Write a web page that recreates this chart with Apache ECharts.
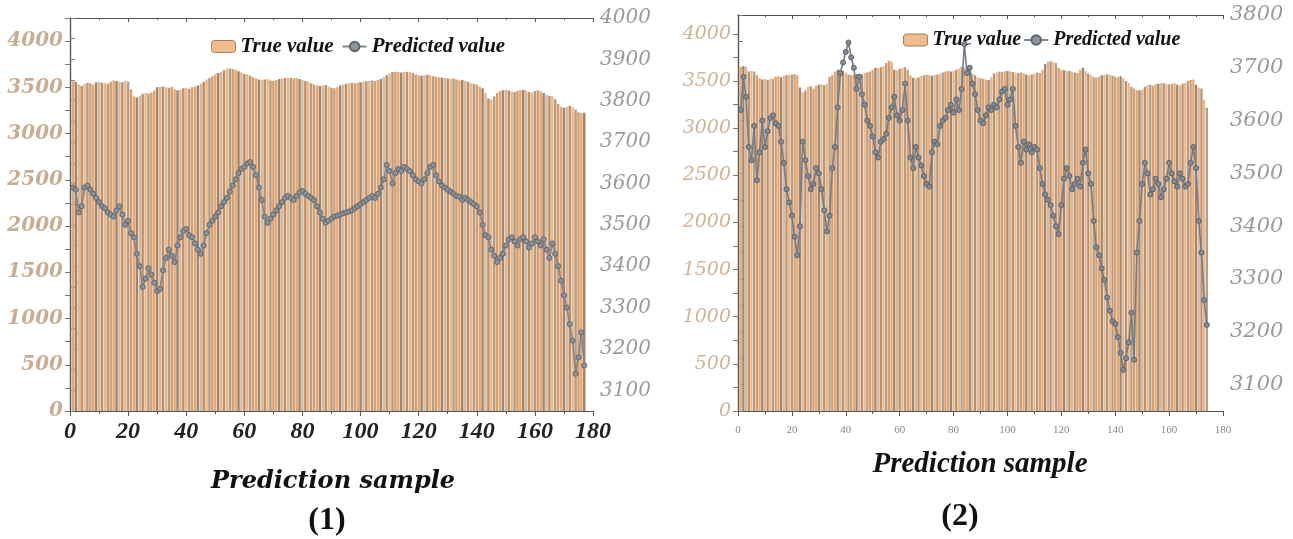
<!DOCTYPE html>
<html>
<head>
<meta charset="utf-8">
<script src="https://cdn.jsdelivr.net/npm/echarts@6/dist/echarts.min.js"></script>
<style>html,body{margin:0;padding:0;background:#fff;}#c{width:1293px;height:539px;}</style>
</head>
<body>
<div id="c"></div>
<script>
// ---------- Panel (1) ----------
const trueValue1 = [
3575,3560,3530,3515,3535,3550,3545,3530,3555,3560,
3550,3545,3540,3560,3575,3570,3560,3555,3570,3560,
3480,3400,3390,3410,3430,3440,3430,3445,3470,3500,
3505,3510,3500,3495,3505,3480,3470,3475,3490,3495,
3485,3500,3510,3520,3540,3560,3585,3600,3620,3640,
3655,3670,3685,3700,3705,3700,3690,3675,3660,3645,
3640,3625,3610,3595,3585,3580,3585,3590,3575,3570,
3580,3590,3595,3600,3605,3600,3595,3600,3590,3580,
3570,3560,3545,3530,3520,3515,3520,3525,3510,3495,
3490,3500,3520,3530,3540,3545,3550,3545,3550,3555,
3560,3565,3570,3575,3570,3580,3590,3610,3630,3650,
3665,3670,3665,3660,3665,3670,3665,3655,3640,3630,
3625,3630,3635,3630,3620,3615,3610,3605,3600,3595,
3590,3595,3585,3575,3580,3570,3560,3545,3540,3530,
3510,3490,3440,3380,3370,3400,3440,3460,3470,3475,
3465,3455,3450,3460,3470,3475,3465,3450,3445,3460,
3470,3455,3440,3420,3410,3400,3370,3320,3290,3280,
3290,3300,3285,3260,3230,3220,3225];
const predValue1 = [
3590,3585,3530,3545,3590,3595,3585,3575,3565,3555,
3545,3540,3530,3525,3520,3535,3545,3525,3500,3510,
3480,3470,3430,3400,3350,3370,3395,3380,3360,3340,
3345,3390,3420,3440,3425,3410,3450,3470,3485,3490,
3475,3470,3455,3440,3430,3450,3480,3500,3510,3520,
3530,3545,3555,3565,3580,3595,3610,3625,3635,3640,
3648,3652,3640,3620,3590,3560,3520,3505,3515,3525,
3535,3545,3555,3565,3570,3565,3560,3570,3578,3582,
3575,3570,3565,3560,3545,3530,3515,3505,3510,3515,
3520,3522,3525,3528,3530,3532,3535,3540,3545,3550,
3555,3560,3565,3570,3565,3575,3590,3610,3645,3630,
3600,3625,3635,3630,3640,3635,3630,3620,3610,3605,
3600,3610,3625,3640,3645,3620,3605,3595,3590,3585,
3580,3575,3570,3568,3560,3565,3560,3555,3550,3545,
3530,3500,3475,3470,3440,3425,3410,3420,3430,3450,
3465,3470,3460,3450,3465,3470,3460,3445,3455,3470,
3460,3450,3465,3440,3420,3455,3430,3400,3365,3330,
3300,3260,3220,3140,3180,3240,3160];

// ---------- Panel (2) ----------
const trueValue2 = [
3650,3660,3655,3600,3605,3600,3560,3530,3515,3520,
3510,3525,3520,3545,3550,3540,3555,3560,3570,3565,
3575,3560,3430,3380,3400,3440,3445,3420,3450,3460,
3465,3455,3470,3545,3560,3600,3620,3625,3610,3590,
3570,3560,3565,3575,3580,3570,3585,3590,3600,3620,
3640,3635,3645,3660,3690,3715,3705,3620,3615,3630,
3640,3645,3620,3560,3535,3530,3540,3555,3560,3565,
3560,3555,3565,3570,3580,3590,3600,3605,3600,3610,
3620,3630,3650,3640,3620,3600,3580,3560,3540,3530,
3520,3515,3510,3540,3580,3590,3600,3595,3600,3605,
3600,3595,3590,3585,3590,3580,3570,3560,3570,3580,
3590,3585,3620,3680,3705,3710,3700,3690,3640,3620,
3615,3605,3610,3600,3590,3585,3620,3640,3610,3580,
3560,3540,3535,3545,3560,3565,3570,3565,3555,3545,
3540,3550,3530,3500,3480,3440,3420,3405,3400,3410,
3440,3455,3460,3450,3465,3470,3480,3475,3470,3465,
3470,3475,3460,3455,3470,3480,3500,3510,3515,3460,
3430,3420,3300,3215];
const predValue2 = [
3620,3683,3645,3550,3525,3590,3487,3540,3600,3550,
3580,3605,3610,3595,3590,3560,3520,3470,3445,3420,
3380,3345,3400,3560,3525,3495,3470,3480,3510,3500,
3470,3430,3390,3420,3510,3550,3625,3690,3710,3730,
3748,3720,3700,3660,3683,3650,3630,3600,3590,3570,
3540,3530,3560,3565,3575,3605,3625,3645,3610,3600,
3620,3670,3600,3530,3510,3550,3530,3515,3495,3480,
3475,3540,3560,3555,3590,3600,3605,3620,3630,3615,
3640,3620,3660,3745,3690,3700,3670,3650,3620,3600,
3595,3610,3625,3620,3630,3625,3640,3655,3660,3630,
3640,3660,3590,3550,3520,3560,3545,3555,3540,3550,
3545,3510,3480,3460,3450,3440,3420,3400,3385,3440,
3490,3510,3495,3470,3480,3490,3475,3520,3545,3500,
3480,3410,3360,3345,3320,3298,3265,3240,3220,3215,
3190,3160,3128,3150,3180,3236,3147,3350,3410,3480,
3520,3500,3460,3470,3490,3480,3455,3470,3490,3520,
3500,3485,3475,3500,3490,3475,3480,3520,3550,3510,
3410,3350,3260,3213];

// tick labels
const xTicks = [0,20,40,60,80,100,120,140,160,180];
const leftTicks = [0,500,1000,1500,2000,2500,3000,3500,4000];
const right1Ticks = [3100,3200,3300,3400,3500,3600,3700,3800,3900,4000];
const right2Ticks = [3100,3200,3300,3400,3500,3600,3700,3800];

const SERIF = '"Liberation Serif","DejaVu Serif",serif';
const WIDE = '"DejaVu Serif","Liberation Serif",serif';
const barPalette = ['#e3a878','#a88462','#d2bba6','#c18f65','#ebb887','#b39c88','#d89e6c'];
const barColor = p => barPalette[p.dataIndex % barPalette.length];
const pairs = arr => arr.map((v, i) => [i + 1, v]);
const steps = (a, b, s) => { const r = []; for (let v = a; v <= b + 1e-9; v += s) r.push(v); return r; };
const plain = v => String(v);

const axisLineStyle = { show: true, lineStyle: { color: '#555', width: 1.2 } };

function xAxes(grid, labelStyle) {
  return [
    { type: 'value', gridIndex: grid, min: 0, max: 180, interval: 20, position: 'bottom',
      axisLine: axisLineStyle, splitLine: { show: false },
      axisTick: { show: true, length: 5, lineStyle: { color: '#555' } },
      minorTick: { show: true, splitNumber: 2, length: 3, lineStyle: { color: '#555' } },
      axisLabel: Object.assign({ customValues: xTicks, formatter: plain }, labelStyle) },
    { type: 'value', gridIndex: grid, min: 0, max: 180, interval: 20, position: 'top',
      axisLine: axisLineStyle, splitLine: { show: false },
      axisTick: { show: true, inside: true, length: 4, lineStyle: { color: '#555' } },
      minorTick: { show: true, splitNumber: 2, length: 2, lineStyle: { color: '#555' } },
      axisLabel: { show: false } }
  ];
}

const option = {
  backgroundColor: '#fff',
  animation: false,
  grid: [
    { left: 70, right: 700, top: 18, bottom: 128, containLabel: false },
    { left: 738, right: 70, top: 15, bottom: 128, containLabel: false }
  ],
  legend: [
    { left: 206, top: 31, itemGap: 8, itemWidth: 24, itemHeight: 12,
      textStyle: { fontFamily: SERIF, fontStyle: 'italic', fontWeight: 'bold', fontSize: 21, color: '#111' },
      data: [{ name: 'True value', itemStyle: { color: '#f0be8e', borderColor: '#a87c5a', borderWidth: 1 } },
             { name: 'Predicted value' }] },
    { left: 898, top: 25, itemGap: 2, itemWidth: 24, itemHeight: 12,
      textStyle: { fontFamily: SERIF, fontStyle: 'italic', fontWeight: 'bold', fontSize: 20, color: '#111' },
      data: [{ name: 'True value', itemStyle: { color: '#f0be8e', borderColor: '#a87c5a', borderWidth: 1 } },
             { name: 'Predicted value' }] }
  ],
  xAxis: [].concat(
    xAxes(0, { fontFamily: SERIF, fontStyle: 'italic', fontWeight: 'bold', fontSize: 24, color: '#222', margin: 9 }),
    xAxes(1, { fontFamily: SERIF, fontSize: 11, color: '#888', margin: 14 })
  ),
  yAxis: [
    { type: 'value', gridIndex: 0, min: 0, max: 4250, position: 'left',
      axisLine: axisLineStyle, splitLine: { show: false },
      axisTick: { show: true, length: 5, customValues: steps(0, 4250, 250), lineStyle: { color: '#777' } },
      axisLabel: { customValues: leftTicks, formatter: plain, fontFamily: WIDE, fontStyle: 'italic', fontWeight: 'bold', fontSize: 20, color: '#c9ad92', margin: 7 } },
    { type: 'value', gridIndex: 0, min: 3050, max: 4000, position: 'right',
      axisLine: axisLineStyle, splitLine: { show: false },
      axisTick: { show: true, length: 5, customValues: steps(3050, 4000, 50), lineStyle: { color: '#777' } },
      axisLabel: { customValues: right1Ticks, formatter: plain, fontFamily: WIDE, fontStyle: 'italic', fontSize: 20, color: '#999', margin: 7 } },
    { type: 'value', gridIndex: 1, min: 0, max: 4200, position: 'left',
      axisLine: axisLineStyle, splitLine: { show: false },
      axisTick: { show: true, length: 5, customValues: steps(0, 4000, 250), lineStyle: { color: '#777' } },
      axisLabel: { customValues: leftTicks, formatter: plain, fontFamily: WIDE, fontStyle: 'italic', fontSize: 19, color: '#d0b294', margin: 7 } },
    { type: 'value', gridIndex: 1, min: 3050, max: 3800, position: 'right',
      axisLine: axisLineStyle, splitLine: { show: false },
      axisTick: { show: true, length: 5, customValues: steps(3050, 3800, 50), lineStyle: { color: '#777' } },
      axisLabel: { customValues: right2Ticks, formatter: plain, fontFamily: WIDE, fontStyle: 'italic', fontSize: 21, color: '#999', margin: 7 } }
  ],
  series: [
    { type: 'bar', name: 'True value', xAxisIndex: 0, yAxisIndex: 0, barWidth: 2.5,
      data: pairs(trueValue1), itemStyle: { color: barColor }, z: 2 },
    { type: 'line', name: 'Predicted value', xAxisIndex: 0, yAxisIndex: 1,
      data: pairs(predValue1), symbol: 'circle', symbolSize: 5,
      lineStyle: { color: '#80868e', width: 1.6 },
      itemStyle: { color: '#8d939b', borderColor: '#60666e', borderWidth: 1 }, z: 5 },
    { type: 'bar', name: 'True value', xAxisIndex: 2, yAxisIndex: 2, barWidth: 2.3,
      data: pairs(trueValue2), itemStyle: { color: barColor }, z: 2 },
    { type: 'line', name: 'Predicted value', xAxisIndex: 2, yAxisIndex: 3,
      data: pairs(predValue2), symbol: 'circle', symbolSize: 5,
      lineStyle: { color: '#737d8a', width: 1.6 },
      itemStyle: { color: '#868c95', borderColor: '#5b616a', borderWidth: 1 }, z: 5 }
  ],
  graphic: [
    { type: 'text', x: 333, y: 482, style: { text: 'Prediction sample', font: 'italic bold 24px "DejaVu Serif"', fill: '#111', align: 'center', verticalAlign: 'middle' } },
    { type: 'text', x: 327, y: 521, style: { text: '(1)', font: 'bold 32px "Liberation Serif"', fill: '#111', align: 'center', verticalAlign: 'middle' } },
    { type: 'text', x: 980, y: 465, style: { text: 'Prediction sample', font: 'italic bold 29px "Liberation Serif"', fill: '#111', align: 'center', verticalAlign: 'middle' } },
    { type: 'text', x: 960, y: 517, style: { text: '(2)', font: 'bold 32px "Liberation Serif"', fill: '#111', align: 'center', verticalAlign: 'middle' } }
  ]
};

const chart = echarts.init(document.getElementById('c'), null, { renderer: 'canvas' });
chart.setOption(option);
</script>
</body>
</html>
